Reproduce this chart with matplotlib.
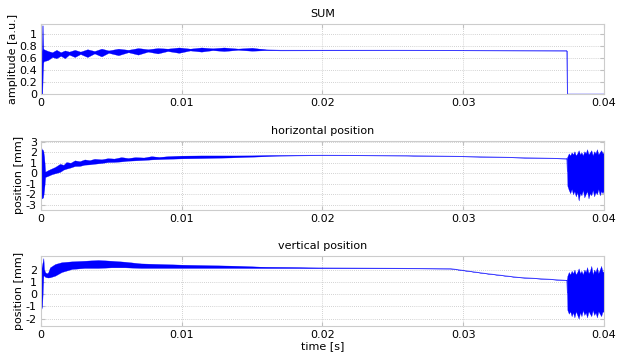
import matplotlib
matplotlib.use('Agg')
import matplotlib.pyplot as plt
import numpy as np

# SUM signal envelope (time in ms)
sum_t = [0, 0.09, 0.12, 0.16, 0.2, 0.5, 0.8, 1.1, 1.4, 1.7, 2.0, 2.4, 2.8, 3.3, 3.8, 4.3, 4.8,
         5.5, 6.2, 6.9, 7.6, 8.3, 9.0, 9.8, 10.6, 11.4, 12.2, 13.0, 14.0, 15.0, 16.0, 17.0,
         25.0, 37.35, 37.4, 40.0]
sum_hi = [0, 1.15, 1.15, 0.76, 0.75, 0.72, 0.70, 0.74, 0.70, 0.73, 0.71, 0.74, 0.71, 0.75, 0.72,
          0.76, 0.73, 0.76, 0.74, 0.77, 0.75, 0.77, 0.76, 0.78, 0.76, 0.78, 0.765, 0.78, 0.76,
          0.775, 0.745, 0.735, 0.733, 0.728, 0, 0]
sum_lo = [0, 0, 0.3, 0.53, 0.55, 0.57, 0.62, 0.60, 0.64, 0.60, 0.66, 0.62, 0.67, 0.62, 0.68,
          0.63, 0.69, 0.65, 0.70, 0.66, 0.71, 0.68, 0.72, 0.69, 0.73, 0.71, 0.735, 0.72, 0.74,
          0.725, 0.735, 0.73, 0.733, 0.728, 0, 0]

# horizontal position envelope
hor_t = [0, 0.05, 0.15, 0.22, 0.3, 0.5, 0.75, 1.0, 1.35, 1.6, 1.8, 2.1, 2.4, 2.75, 3.1, 3.45,
         3.8, 4.3, 4.75, 5.2, 5.7, 6.2, 6.7, 7.3, 7.85, 8.4, 9.0, 10.0, 11.4, 13.5, 15.0, 17.0,
         20.0, 26.0, 31.0, 37.35]
hor_hi = [2.6, 2.3, 2.2, 1.6, 0.15, 0.3, 0.45, 0.6, 0.9, 0.8, 1.07, 1.0, 1.23, 1.15, 1.32, 1.25,
          1.38, 1.33, 1.44, 1.4, 1.54, 1.45, 1.54, 1.5, 1.63, 1.55, 1.63, 1.68, 1.7, 1.7, 1.7,
          1.72, 1.72, 1.69, 1.59, 1.4]
hor_lo = [-1.5, -2.4, -2.3, -1.6, -0.35, -0.25, -0.1, 0.0, 0.13, 0.35, 0.44, 0.55, 0.69, 0.7,
          0.82, 0.85, 0.91, 0.98, 1.07, 1.08, 1.13, 1.2, 1.23, 1.27, 1.32, 1.35, 1.38, 1.42, 1.45,
          1.51, 1.58, 1.68, 1.72, 1.69, 1.59, 1.4]
hor_noise_t = [37.4, 37.5, 37.6, 37.7, 37.8, 37.9, 38.0, 38.1, 38.2, 38.3, 38.4, 38.5, 38.6, 38.7,
               38.8, 38.9, 39.0, 39.1, 39.2, 39.3, 39.4, 39.5, 39.6, 39.7, 39.8, 39.9, 40.0]
hor_noise_hi = [1.6, 1.9, 1.7, 2.0, 1.8, 2.1, 1.7, 1.9, 2.2, 1.8, 2.0, 1.7, 2.1, 1.9, 2.3, 1.8,
                2.0, 2.2, 1.7, 2.1, 1.9, 2.3, 1.8, 2.0, 2.2, 1.9, 2.0]
hor_noise_lo = [-1.2, -1.6, -1.9, -1.5, -2.0, -1.7, -2.2, -1.8, -2.6, -1.9, -2.1, -1.6, -2.3,
                -2.0, -1.7, -2.4, -1.9, -2.1, -1.6, -2.2, -1.8, -2.0, -1.5, -2.1, -1.7, -1.9, -1.6]

# vertical position envelope
ver_t = [0, 0.08, 0.17, 0.22, 0.3, 0.4, 0.5, 0.64, 1.0, 1.47, 2.2, 3.1, 4.06, 5.0, 5.96, 7.1,
         8.6, 10.0, 11.4, 13.5, 16.0, 20.0, 29.1, 31.5, 33.9, 36.2, 37.35]
ver_hi = [1.9, 2.4, 2.94, 2.0, 1.78, 1.7, 1.75, 2.18, 2.45, 2.6, 2.67, 2.72, 2.78, 2.72, 2.64,
          2.5, 2.45, 2.4, 2.37, 2.32, 2.22, 2.15, 2.08, 1.7, 1.37, 1.21, 1.12]
ver_lo = [-1.3, -1.0, 1.5, 1.5, 1.4, 1.37, 1.35, 1.37, 1.5, 1.8, 2.05, 2.13, 2.13, 2.18, 2.18,
          2.13, 2.13, 2.13, 2.13, 2.13, 2.12, 2.12, 2.08, 1.7, 1.37, 1.21, 1.12]
ver_noise_t = hor_noise_t
ver_noise_hi = [1.5, 1.8, 1.6, 1.9, 1.7, 2.0, 1.6, 1.8, 2.1, 1.7, 1.9, 1.6, 2.0, 1.8, 2.2, 1.7,
                1.9, 2.3, 1.6, 2.0, 1.8, 2.2, 1.7, 2.0, 2.3, 1.8, 1.9]
ver_noise_lo = [-1.3, -1.6, -1.4, -1.8, -1.5, -1.9, -1.4, -1.7, -2.0, -1.5, -1.8, -1.3, -1.7,
                -1.5, -1.9, -1.4, -1.6, -1.8, -1.3, -1.7, -1.5, -1.9, -1.4, -1.6, -1.8, -1.4, -1.5]

plt.rcParams['font.size'] = 8
plt.rcParams['font.family'] = 'DejaVu Sans'

fig = plt.figure(figsize=(6.21, 3.55), dpi=100)
ax1 = fig.add_axes([0.066, 0.735, 0.9066, 0.197])
ax2 = fig.add_axes([0.066, 0.4085, 0.9066, 0.195])
ax3 = fig.add_axes([0.066, 0.0817, 0.9066, 0.197])

blue = '#0000ff'


def draw(ax, t, hi, lo):
    t = np.array(t) / 1000.0
    hi = np.array(hi)
    lo = np.array(lo)
    ax.fill_between(t, lo, hi, color=blue, lw=0.2, zorder=2)
    ax.plot(t, (hi + lo) / 2, color=blue, lw=0.5, alpha=0.65, zorder=2)


draw(ax1, sum_t, sum_hi, sum_lo)
draw(ax2, hor_t, hor_hi, hor_lo)
draw(ax2, [37.35] + hor_noise_t, [1.4] + hor_noise_hi, [1.4] + hor_noise_lo)
draw(ax3, ver_t, ver_hi, ver_lo)
draw(ax3, [37.35] + ver_noise_t, [1.12] + ver_noise_hi, [1.12] + ver_noise_lo)

ax1.set_title('SUM', fontsize=8, pad=5)
ax2.set_title('horizontal position', fontsize=8, pad=5)
ax3.set_title('vertical position', fontsize=8, pad=5)
ax1.set_ylabel('amplitude [a.u.]')
ax2.set_ylabel('position [mm]')
ax3.set_ylabel('position [mm]')
ax3.set_xlabel('time [s]', labelpad=1)

ax1.set_ylim(0, 1.17)
ax1.set_yticks([0, 0.2, 0.4, 0.6, 0.8, 1])
ax2.set_ylim(-3.5, 3.1)
ax2.set_yticks([-3, -2, -1, 0, 1, 2, 3])
ax3.set_ylim(-2.6, 3.1)
ax3.set_yticks([-2, -1, 0, 1, 2])

for ax in (ax1, ax2, ax3):
    ax.set_axisbelow(True)
    ax.set_xlim(0, 0.04)
    ax.set_xticks([0, 0.01, 0.02, 0.03, 0.04])
    ax.xaxis.set_major_formatter(matplotlib.ticker.FormatStrFormatter('%g'))
    ax.yaxis.set_major_formatter(matplotlib.ticker.FormatStrFormatter('%g'))
    ax.grid(True, linestyle=(0, (1, 1.5)), color='#c4c4c4', lw=0.6)
    ax.tick_params(direction='in', length=3, color='#c0c0c0', labelsize=8,
                   top=True, right=True, pad=3)
    ax.yaxis.labelpad = 1
    for s in ax.spines.values():
        s.set_color('#cccccc')

fig.savefig('out.png', dpi=100)
